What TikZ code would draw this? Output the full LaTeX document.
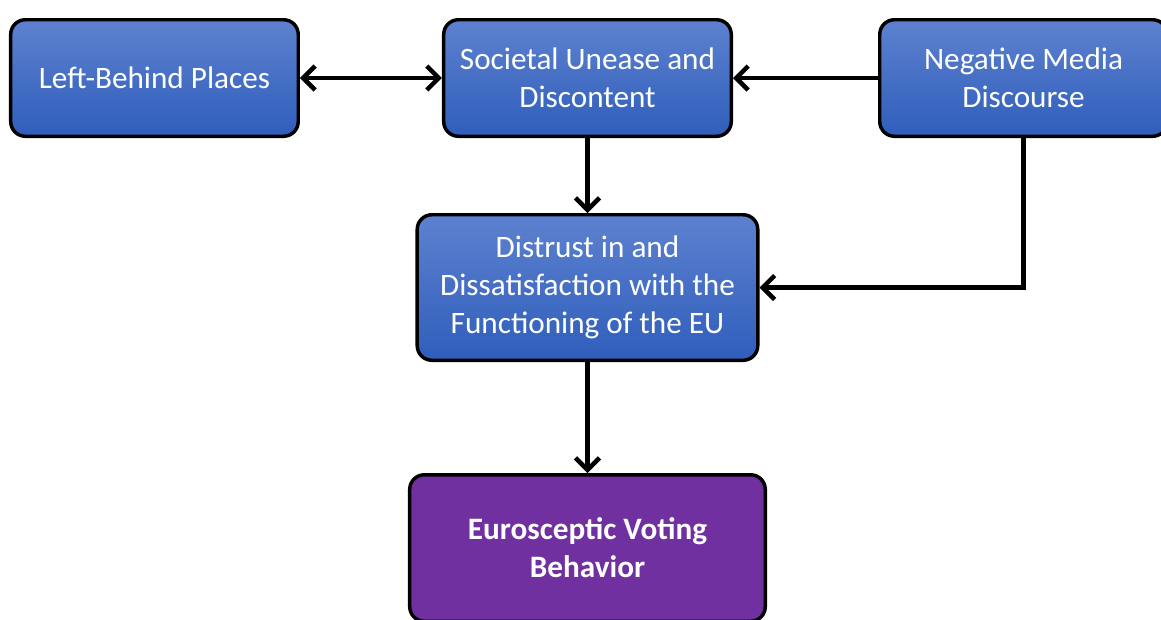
\documentclass[tikz,border=0pt]{standalone}
\usepackage{fontspec}
\setmainfont{Carlito}
\usepackage{xcolor}
\definecolor{btop}{RGB}{93,129,207}
\definecolor{bbot}{RGB}{47,94,187}
\definecolor{vpurple}{RGB}{112,48,160}
\usepackage{tikz}
\usetikzlibrary{arrows.meta,positioning}

\begin{document}
\begin{tikzpicture}[
  node distance=56.25pt and 106.5pt,
  fbox/.style={rectangle,draw=black,line width=2.6pt,rounded corners=11pt,top color=btop,bottom color=bbot,minimum width=215.65pt,minimum height=87.4pt,align=center,text=white,font=\fontsize{23.4}{28.5}\selectfont},
  obox/.style={fbox,top color=vpurple,bottom color=vpurple,minimum width=266.65pt,minimum height=109.9pt,font=\fontsize{23.4}{28.5}\selectfont\bfseries},
  arrow/.style={-{Straight Barb[length=9pt,width=18pt]},line width=3.4pt,line cap=round,black}
]
  \useasboundingbox (-440.6pt,58.5pt) rectangle (430.1pt,-405.75pt);

  % Top row
  \node[fbox] (unease) {Societal Unease and\\Discontent};
  \node[fbox,left=of unease] (places) {Left-Behind Places};
  \node[fbox,right=108.75pt of unease] (media) {Negative Media\\Discourse};

  % Middle and outcome
  \node[fbox,below=of unease,minimum width=255.4pt,minimum height=109.15pt] (distrust) {Distrust in and\\Dissatisfaction with the\\Functioning of the EU};
  \node[obox,below=83.25pt of distrust] (voting) {Eurosceptic Voting\\Behavior};

  % Arrows
  \draw[arrow,{Straight Barb[length=9pt,width=18pt]}-{Straight Barb[length=9pt,width=18pt]}] (places) -- (unease);
  \draw[arrow] (media) -- (unease);
  \draw[arrow] (unease) -- (distrust);
  \draw[arrow] (media.south) |- (distrust.east);
  \draw[arrow] (distrust) -- (voting);
\end{tikzpicture}
\end{document}
